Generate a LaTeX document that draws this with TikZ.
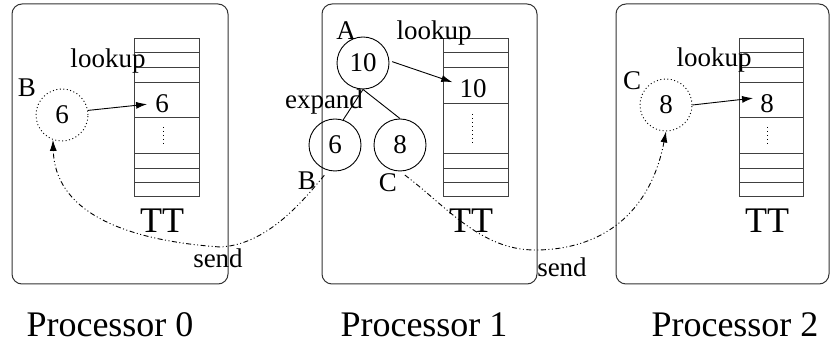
\documentclass[tikz,border=0pt]{standalone}
\usepackage{fontspec}
\setmainfont{Liberation Serif}
\usetikzlibrary{arrows.meta}
\begin{document}
\begin{tikzpicture}[x=1pt,y=-1pt,
  proc/.style={draw=black!80, line width=1pt, rounded corners=10pt},
  tbl/.style={draw=black!75, line width=1pt},
  small/.style={font=\fontsize{27}{30}\selectfont, inner sep=0pt, anchor=base},
  big/.style={font=\fontsize{36}{40}\selectfont, inner sep=0pt, anchor=base},
  state/.style={circle, draw, line width=0.9pt, minimum size=52pt, inner sep=0pt, font=\fontsize{27}{30}\selectfont},
  remote/.style={state, dash pattern=on 1pt off 2.5pt},
  arr/.style={-{Latex[length=11pt,width=7pt]}, line width=0.9pt},
  sendarr/.style={arr, dash pattern=on 5pt off 2.5pt on 1pt off 2.5pt on 1pt off 2.5pt},
  vdots/.style={line width=1pt, dash pattern=on 1pt off 3pt},
]
\useasboundingbox (0,0) rectangle (831,344);

% processor boxes
\draw[proc] (12,4) rectangle (228,284);
\draw[proc] (322,4) rectangle (537,284);
\draw[proc] (616,4) rectangle (829,284);

% tables
\draw[tbl] (134,39) rectangle (199,197);
\foreach \y in {53,68,83,118,154,169,183} \draw[tbl] (134,\y) -- (199,\y);
\draw[vdots] (163,127) -- (163,147);

\draw[tbl] (443,39) rectangle (508,197);
\foreach \y in {53,68,104,154,169,183} \draw[tbl] (443,\y) -- (508,\y);
\draw[vdots] (472,114) -- (472,144);

\draw[tbl] (739,39) rectangle (803,197);
\foreach \y in {53,68,83,118,154,169,183} \draw[tbl] (739,\y) -- (803,\y);
\draw[vdots] (767,127) -- (767,147);

% TT labels
\node[big] (tt0) at (162,233) {TT};
\node[big] (tt1) at (471,233) {TT};
\node[big] (tt2) at (767,233) {TT};

% processor labels
\node[big] (p0) at (110,337) {Processor 0};
\node[big] (p1) at (424,337) {Processor 1};
\node[big] (p2) at (735,337) {Processor 2};

% processor 0
\node[remote] (B0) at (62,115) {6};
\node[small] (lB0) at (27,97) {B};
\node[small] (lk0) at (108,68) {lookup};
\node[small] (t0) at (162,113) {6};
\draw[arr] (B0.10) -- ([xshift=-8pt]t0.west);

% processor 1
\node[state] (A) at (363,63) {10};
\node[small] (lA) at (346,40) {A};
\node[small] (lk1) at (434,40) {lookup};
\node[small] (t1) at (473,98) {10};
\draw[arr, shorten <=3pt] (A.5) -- ([xshift=-7pt,yshift=7pt]t1.west);
\node[state] (B1) at (335,145) {6};
\node[state] (C1) at (400,145) {8};
\node[small] (lB1) at (307,190) {B};
\node[small] (lC1) at (388,192) {C};
\node[small] (ex) at (324,109) {expand};
\draw[line width=0.9pt] (A.south) -- (B1.72);
\draw[line width=0.9pt] (A.south) -- (C1.north);

% processor 2
\node[remote] (C2) at (666,105) {8};
\node[small] (lC2) at (632,90) {C};
\node[small] (lk2) at (714,67) {lookup};
\node[small] (t2) at (767,113) {8};
\draw[arr] (C2.east) -- ([xshift=-7pt,yshift=6pt]t2.west);

% send arrows
\draw[sendarr, shorten <=6pt] (B1.255) .. controls (300,205) and (265,245) .. (220,247)
  .. controls (120,240) and (55,210) .. (B0.250);
\draw[sendarr, shorten <=6pt] (C1.south) .. controls (445,205) and (480,250) .. (535,250)
  .. controls (600,250) and (650,215) .. (C2.south);
\node[small] (s0) at (218,268) {send};
\node[small] (s1) at (562,277) {send};
\end{tikzpicture}
\end{document}
